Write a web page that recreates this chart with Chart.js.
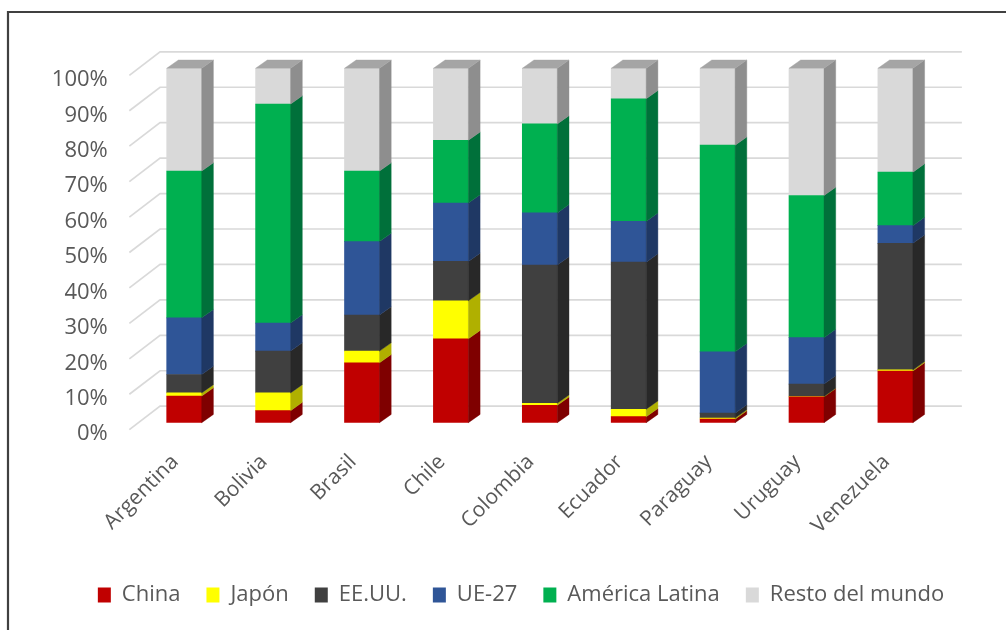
<!DOCTYPE html>
<html>
<head>
<meta charset="utf-8">
<script src="https://cdn.jsdelivr.net/npm/chart.js@4.4.1/dist/chart.umd.min.js"></script>
<style>
  html, body { margin: 0; padding: 0; background: #fff; }
  canvas { display: block; }
</style>
</head>
<body>
<canvas id="chart" width="1006" height="630"></canvas>
<script>
// Export destination shares (%) by country
const countries = ['Argentina', 'Bolivia', 'Brasil', 'Chile', 'Colombia', 'Ecuador', 'Paraguay', 'Uruguay', 'Venezuela'];
const seriesNames = ['China', 'Japón', 'EE.UU.', 'UE-27', 'América Latina', 'Resto del mundo'];

const china    = [7.5, 3.4, 16.9, 23.7, 4.9, 1.7, 1.0, 7.3, 14.6];
const japon    = [0.9, 5.0, 3.3, 10.7, 0.6, 2.1, 0.3, 0.1, 0.3];
const eeuu     = [5.2, 11.8, 10.2, 11.1, 39.0, 41.5, 1.4, 3.5, 35.7];
const ue27     = [16.0, 7.9, 20.7, 16.5, 14.7, 11.5, 17.3, 13.1, 5.0];
const amLatina = [41.4, 61.8, 19.9, 17.7, 25.1, 34.6, 58.3, 40.1, 15.1];
const resto    = [29.0, 10.1, 29.0, 20.3, 15.7, 8.6, 21.7, 35.9, 29.3];

const yTickValues = [0, 10, 20, 30, 40, 50, 60, 70, 80, 90, 100];

// Face colours: front, side, top
const frontColors = ['#C00000', '#FFFF00', '#404040', '#2F5597', '#00B050', '#D9D9D9'];
const sideColors  = ['#7F0000', '#B0B000', '#282828', '#1F3864', '#00703A', '#8E8E8E'];
const topColor = '#A5A5A5';

const seriesValues = [china, japon, eeuu, ue27, amLatina, resto];

// Extrusion of the bars and of the back wall
const BAR_DX = 11.7, BAR_DY = -8.3;
const WALL_DY = -16.5, FLOOR_DY = 7;

const frame = {
  id: 'frame',
  beforeDraw(chart) {
    const ctx = chart.ctx;
    ctx.save();
    ctx.fillStyle = '#ffffff';
    ctx.fillRect(0, 0, chart.width, chart.height);
    ctx.strokeStyle = '#404040';
    ctx.lineWidth = 2.2;
    ctx.beginPath();
    ctx.moveTo(8, chart.height + 2);
    ctx.lineTo(8, 12);
    ctx.lineTo(chart.width + 2, 12);
    ctx.stroke();
    ctx.restore();
  }
};

// Back-wall gridlines with their slanted side-wall segments
const wallGrid = {
  id: 'wallGrid',
  beforeDatasetsDraw(chart) {
    const ctx = chart.ctx;
    const y = chart.scales.y;
    const area = chart.chartArea;
    const wallLeft = area.left + 20.3;
    const frontLeft = area.left - 10.4;
    const wallRight = area.right + 22;
    ctx.save();
    ctx.strokeStyle = '#D9D9D9';
    ctx.lineWidth = 1.7;
    y.ticks.forEach(t => {
      const p = y.getPixelForValue(t.value);
      ctx.beginPath();
      ctx.moveTo(frontLeft, p + FLOOR_DY);
      ctx.lineTo(wallLeft, p + WALL_DY);
      ctx.lineTo(wallRight, p + WALL_DY);
      ctx.stroke();
    });
    ctx.restore();
  }
};

// Side and top faces of each stacked bar segment
const bar3d = {
  id: 'bar3d',
  afterDatasetsDraw(chart) {
    const ctx = chart.ctx;
    const last = chart.data.datasets.length - 1;
    ctx.save();
    chart.data.datasets.forEach((ds, di) => {
      const meta = chart.getDatasetMeta(di);
      meta.data.forEach(bar => {
        const {x, y, base, width} = bar.getProps(['x', 'y', 'base', 'width'], true);
        if (Math.abs(base - y) < 0.05) return;
        const l = x - width / 2, r = x + width / 2;
        ctx.fillStyle = sideColors[di];
        ctx.strokeStyle = sideColors[di];
        ctx.lineWidth = 0.4;
        ctx.beginPath();
        ctx.moveTo(r, y);
        ctx.lineTo(r + BAR_DX, y + BAR_DY);
        ctx.lineTo(r + BAR_DX, base + BAR_DY);
        ctx.lineTo(r, base);
        ctx.closePath();
        ctx.fill();
        ctx.stroke();
        if (di === last) {
          ctx.fillStyle = topColor;
          ctx.strokeStyle = topColor;
          ctx.beginPath();
          ctx.moveTo(l, y);
          ctx.lineTo(l + BAR_DX, y + BAR_DY);
          ctx.lineTo(r + BAR_DX, y + BAR_DY);
          ctx.lineTo(r, y);
          ctx.closePath();
          ctx.fill();
          ctx.stroke();
        }
      });
    });
    ctx.restore();
  }
};

function build() {
  const textColor = '#595959';
  const family = '"Open Sans", "DejaVu Sans", sans-serif';
  const font = { family: family, size: 22 };

  new Chart(document.getElementById('chart'), {
    type: 'bar',
    data: {
      labels: countries,
      datasets: seriesNames.map((name, i) => ({
        label: name,
        data: seriesValues[i],
        backgroundColor: frontColors[i],
        borderWidth: 0,
        barThickness: 35
      }))
    },
    options: {
      responsive: false,
      animation: false,
      devicePixelRatio: 1,
      layout: { padding: { left: 36, right: 0, top: 68.3, bottom: 14 } },
      plugins: {
        legend: {
          position: 'bottom',
          labels: {
            boxWidth: 13,
            boxHeight: 15,
            padding: 26,
            color: textColor,
            font: font
          }
        },
        tooltip: { enabled: false }
      },
      scales: {
        x: {
          stacked: true,
          grid: { display: false, drawTicks: false },
          border: { display: false },
          ticks: {
            color: textColor,
            font: { family: family, size: 21 },
            minRotation: 45,
            maxRotation: 45,
            autoSkip: false,
            padding: 27,
            labelOffset: -9
          },
          afterFit(s) { s.height = 135.3; }
        },
        y: {
          stacked: true,
          min: 0,
          max: 100,
          grid: { display: false, drawTicks: false },
          border: { display: false },
          afterBuildTicks(s) { s.ticks = yTickValues.map(v => ({ value: v })); },
          ticks: {
            color: textColor,
            font: font,
            padding: 32,
            labelOffset: 11.5,
            callback: v => v + '%'
          },
          afterFit(s) { s.width = 103.75; }
        },
        yRight: {
          position: 'right',
          display: true,
          grid: { display: false, drawTicks: false },
          border: { display: false },
          ticks: { display: false },
          afterFit(s) { s.width = 66.15; }
        }
      }
    },
    plugins: [frame, wallGrid, bar3d]
  });
}

if (document.fonts && document.fonts.load) {
  document.fonts.load('22px "Open Sans"').then(build, build);
} else {
  build();
}
</script>
</body>
</html>
